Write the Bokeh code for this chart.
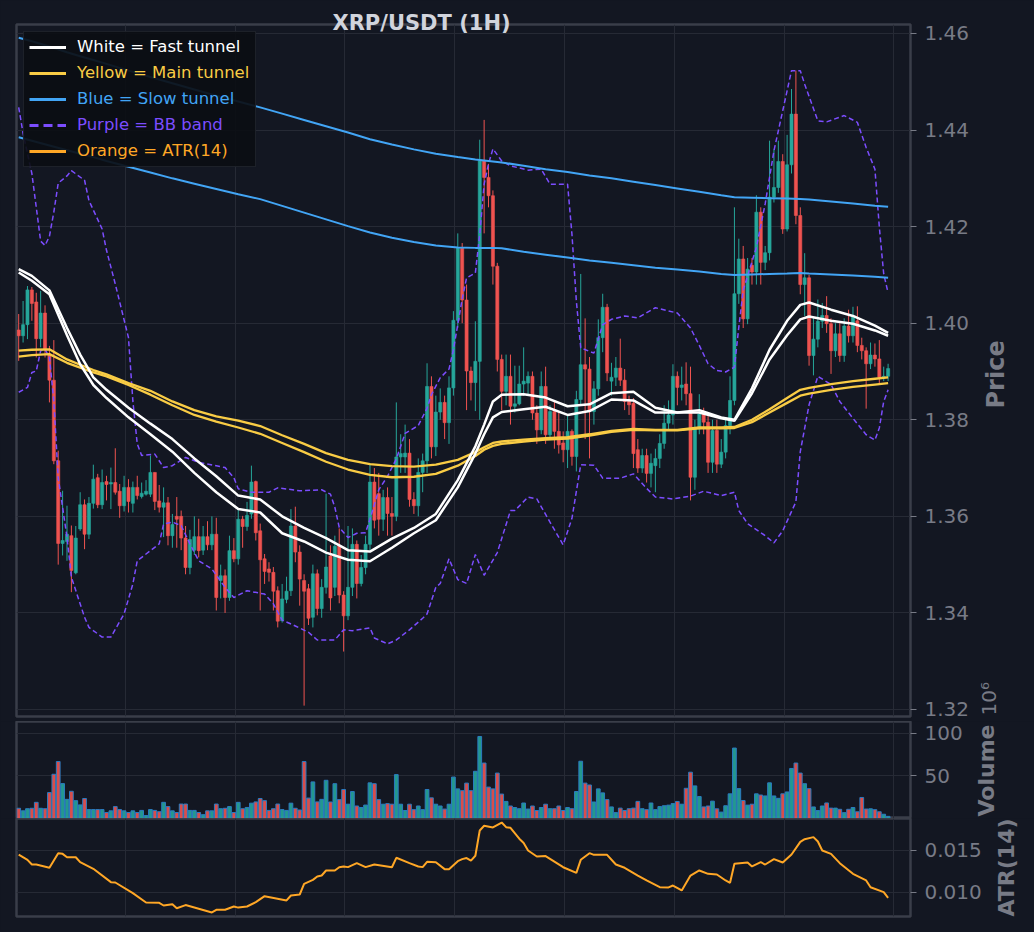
import math
from bokeh.plotting import figure
from bokeh.models import (Range1d, FixedTicker, Grid, Legend, LegendItem, LinearAxis,
                          ColumnDataSource, PrintfTickFormatter)
from bokeh.layouts import column
from bokeh.embed import file_html
from bokeh.resources import INLINE

# ---------------- data ----------------
opens = [1.3986, 1.3974, 1.3997, 1.4069, 1.4044, 1.3968, 1.4021, 1.3936, 1.3882, 1.3715,
         1.3544, 1.3548, 1.3560, 1.3483, 1.3574, 1.3624, 1.3563, 1.3627, 1.3680, 1.3624,
         1.3672, 1.3667, 1.3670, 1.3652, 1.3622, 1.3660, 1.3627, 1.3660, 1.3641, 1.3646,
         1.3646, 1.3691, 1.3632, 1.3619, 1.3628, 1.3560, 1.3600, 1.3600, 1.3555, 1.3494,
         1.3530, 1.3558, 1.3530, 1.3558, 1.3541, 1.3563, 1.3467, 1.3477, 1.3432, 1.3529,
         1.3512, 1.3594, 1.3579, 1.3605, 1.3672, 1.3570, 1.3512, 1.3491, 1.3484, 1.3446,
         1.3384, 1.3428, 1.3446, 1.3580, 1.3526, 1.3467, 1.3450, 1.3391, 1.3481, 1.3409,
         1.3453, 1.3518, 1.3453, 1.3540, 1.3437, 1.3394, 1.3453, 1.3542, 1.3461, 1.3494,
         1.3542, 1.3671, 1.3647, 1.3594, 1.3639, 1.3606, 1.3600, 1.3723, 1.3723, 1.3731,
         1.3635, 1.3622, 1.3691, 1.3715, 1.3869, 1.3744, 1.3816, 1.3836, 1.3794, 1.3866,
         1.4006, 1.4155, 1.4048, 1.3901, 1.3877, 1.3921, 1.4336, 1.4302, 1.4264, 1.4118,
         1.3925, 1.3859, 1.3890, 1.3828, 1.3833, 1.3874, 1.3876, 1.3890, 1.3814, 1.3779,
         1.3869, 1.3769, 1.3817, 1.3776, 1.3752, 1.3738, 1.3776, 1.3724, 1.3842, 1.3914,
         1.3905, 1.3817, 1.3864, 1.3970, 1.4033, 1.3880, 1.3888, 1.3907, 1.3882, 1.3838,
         1.3834, 1.3738, 1.3700, 1.3726, 1.3689, 1.3705, 1.3720, 1.3751, 1.3793, 1.3810,
         1.3890, 1.3867, 1.3874, 1.3854, 1.3681, 1.3781, 1.3812, 1.3795, 1.3712, 1.3778,
         1.3708, 1.3733, 1.3788, 1.3840, 1.4061, 1.4133, 1.4009, 1.4120, 1.4106, 1.4230,
         1.4126, 1.4146, 1.4261, 1.4281, 1.4335, 1.4195, 1.4328, 1.4433, 1.4223, 1.4080,
         1.4094, 1.3933, 1.3967, 1.4004, 1.4016, 1.3999, 1.3943, 1.3978, 1.3933, 1.3994,
         1.3974, 1.4005, 1.3954, 1.3943, 1.3916, 1.3934, 1.3926, 1.3888, 1.3890]

highs = [1.4019, 1.4046, 1.4077, 1.4075, 1.4063, 1.4067, 1.4037, 1.3953, 1.3965, 1.3736,
         1.3653, 1.3622, 1.3581, 1.3580, 1.3650, 1.3635, 1.3640, 1.3707, 1.3688, 1.3697,
         1.3684, 1.3701, 1.3741, 1.3667, 1.3684, 1.3677, 1.3672, 1.3684, 1.3670, 1.3675,
         1.3726, 1.3691, 1.3665, 1.3660, 1.3640, 1.3605, 1.3640, 1.3612, 1.3580, 1.3572,
         1.3600, 1.3595, 1.3580, 1.3590, 1.3600, 1.3597, 1.3500, 1.3490, 1.3560, 1.3555,
         1.3615, 1.3601, 1.3630, 1.3705, 1.3674, 1.3585, 1.3522, 1.3505, 1.3495, 1.3455,
         1.3460, 1.3475, 1.3615, 1.3620, 1.3540, 1.3480, 1.3460, 1.3500, 1.3490, 1.3470,
         1.3647, 1.3540, 1.3560, 1.3575, 1.3445, 1.3580, 1.3575, 1.3550, 1.3520, 1.3560,
         1.3710, 1.3700, 1.3690, 1.3655, 1.3660, 1.3640, 1.3836, 1.3770, 1.3790, 1.3760,
         1.3650, 1.3720, 1.3730, 1.3917, 1.3890, 1.3850, 1.3865, 1.3850, 1.3890, 1.4025,
         1.4186, 1.4166, 1.4080, 1.3910, 1.4004, 1.4380, 1.4421, 1.4330, 1.4275, 1.4125,
         1.3935, 1.3935, 1.3935, 1.3912, 1.3912, 1.3950, 1.3900, 1.3900, 1.3830, 1.3900,
         1.3910, 1.3830, 1.3840, 1.3817, 1.3776, 1.3810, 1.3780, 1.3860, 1.4102, 1.4010,
         1.3930, 1.3880, 1.4008, 1.4061, 1.4040, 1.3918, 1.3930, 1.3968, 1.3905, 1.3850,
         1.3845, 1.3760, 1.3740, 1.3740, 1.3730, 1.3740, 1.3770, 1.3830, 1.3840, 1.3915,
         1.3900, 1.3910, 1.3919, 1.3910, 1.3800, 1.3853, 1.3825, 1.3810, 1.3800, 1.3800,
         1.3760, 1.3800, 1.3890, 1.4240, 1.4175, 1.4160, 1.4135, 1.4135, 1.4265, 1.4240,
         1.4160, 1.4378, 1.4360, 1.4378, 1.4350, 1.4390, 1.4485, 1.4523, 1.4240, 1.4145,
         1.4100, 1.4012, 1.4049, 1.4042, 1.4056, 1.4010, 1.4000, 1.4000, 1.4010, 1.4028,
         1.4034, 1.4035, 1.3970, 1.3950, 1.3960, 1.3958, 1.3965, 1.3910, 1.3916]

lows = [1.3922, 1.3960, 1.3967, 1.4005, 1.3929, 1.3950, 1.3929, 1.3836, 1.3708, 1.3500,
        1.3519, 1.3508, 1.3443, 1.3480, 1.3570, 1.3532, 1.3553, 1.3616, 1.3617, 1.3615,
        1.3633, 1.3615, 1.3645, 1.3597, 1.3610, 1.3608, 1.3608, 1.3635, 1.3637, 1.3643,
        1.3640, 1.3613, 1.3608, 1.3557, 1.3540, 1.3535, 1.3535, 1.3530, 1.3480, 1.3480,
        1.3520, 1.3515, 1.3520, 1.3530, 1.3530, 1.3405, 1.3430, 1.3400, 1.3425, 1.3505,
        1.3500, 1.3535, 1.3570, 1.3595, 1.3550, 1.3405, 1.3460, 1.3465, 1.3405, 1.3370,
        1.3380, 1.3420, 1.3435, 1.3505, 1.3415, 1.3208, 1.3375, 1.3370, 1.3395, 1.3390,
        1.3440, 1.3405, 1.3435, 1.3420, 1.3320, 1.3385, 1.3435, 1.3430, 1.3455, 1.3480,
        1.3530, 1.3575, 1.3560, 1.3570, 1.3560, 1.3560, 1.3590, 1.3690, 1.3690, 1.3620,
        1.3605, 1.3600, 1.3650, 1.3690, 1.3720, 1.3725, 1.3800, 1.3760, 1.3750, 1.3850,
        1.3990, 1.4000, 1.3820, 1.3840, 1.3818, 1.3800, 1.4186, 1.4240, 1.4080, 1.3900,
        1.3820, 1.3830, 1.3790, 1.3815, 1.3830, 1.3850, 1.3850, 1.3800, 1.3750, 1.3770,
        1.3750, 1.3760, 1.3740, 1.3730, 1.3712, 1.3700, 1.3705, 1.3693, 1.3830, 1.3760,
        1.3720, 1.3790, 1.3850, 1.3940, 1.3880, 1.3850, 1.3870, 1.3870, 1.3820, 1.3810,
        1.3700, 1.3690, 1.3690, 1.3670, 1.3660, 1.3650, 1.3700, 1.3740, 1.3780, 1.3790,
        1.3830, 1.3840, 1.3830, 1.3633, 1.3655, 1.3770, 1.3770, 1.3690, 1.3690, 1.3690,
        1.3700, 1.3720, 1.3770, 1.3830, 1.4040, 1.3990, 1.3998, 1.4080, 1.4080, 1.4080,
        1.4110, 1.4130, 1.4250, 1.4270, 1.4185, 1.4190, 1.4310, 1.4205, 1.4060, 1.4015,
        1.3912, 1.3892, 1.3950, 1.3990, 1.3980, 1.3895, 1.3930, 1.3920, 1.3920, 1.3960,
        1.3960, 1.3940, 1.3925, 1.3823, 1.3905, 1.3910, 1.3872, 1.3880, 1.3880]

closes = [1.3974, 1.3997, 1.4069, 1.4041, 1.3968, 1.4021, 1.3946, 1.3882, 1.3715, 1.3544,
          1.3550, 1.3563, 1.3488, 1.3555, 1.3624, 1.3563, 1.3627, 1.3677, 1.3624, 1.3670,
          1.3666, 1.3670, 1.3650, 1.3622, 1.3660, 1.3631, 1.3660, 1.3643, 1.3648, 1.3652,
          1.3691, 1.3631, 1.3619, 1.3628, 1.3560, 1.3583, 1.3594, 1.3555, 1.3494, 1.3552,
          1.3558, 1.3529, 1.3558, 1.3541, 1.3563, 1.3432, 1.3477, 1.3432, 1.3529, 1.3512,
          1.3594, 1.3579, 1.3602, 1.3671, 1.3566, 1.3510, 1.3486, 1.3484, 1.3445, 1.3383,
          1.3429, 1.3445, 1.3580, 1.3526, 1.3470, 1.3445, 1.3389, 1.3481, 1.3409, 1.3453,
          1.3495, 1.3431, 1.3538, 1.3437, 1.3394, 1.3453, 1.3542, 1.3461, 1.3494, 1.3542,
          1.3671, 1.3592, 1.3594, 1.3639, 1.3606, 1.3600, 1.3723, 1.3730, 1.3731, 1.3635,
          1.3622, 1.3691, 1.3715, 1.3869, 1.3744, 1.3816, 1.3836, 1.3794, 1.3866, 1.4006,
          1.4155, 1.4048, 1.3901, 1.3877, 1.3921, 1.4336, 1.4302, 1.4264, 1.4118, 1.3925,
          1.3859, 1.3890, 1.3828, 1.3833, 1.3874, 1.3880, 1.3890, 1.3814, 1.3779, 1.3869,
          1.3769, 1.3817, 1.3776, 1.3748, 1.3738, 1.3776, 1.3724, 1.3842, 1.3914, 1.3905,
          1.3817, 1.3864, 1.3970, 1.4033, 1.3897, 1.3888, 1.3907, 1.3882, 1.3838, 1.3831,
          1.3730, 1.3700, 1.3726, 1.3689, 1.3710, 1.3720, 1.3751, 1.3793, 1.3810, 1.3890,
          1.3867, 1.3872, 1.3854, 1.3681, 1.3781, 1.3812, 1.3795, 1.3712, 1.3778, 1.3708,
          1.3733, 1.3788, 1.3840, 1.4061, 1.4133, 1.4009, 1.4112, 1.4106, 1.4230, 1.4126,
          1.4146, 1.4261, 1.4281, 1.4335, 1.4195, 1.4328, 1.4433, 1.4223, 1.4080, 1.4094,
          1.3933, 1.3967, 1.4004, 1.4016, 1.3999, 1.3943, 1.3978, 1.3933, 1.3994, 1.3974,
          1.4014, 1.3954, 1.3943, 1.3916, 1.3934, 1.3926, 1.3888, 1.3890, 1.3906]

volume_m = [12, 9, 11.5, 12, 19, 12, 11.5, 30.5, 52, 67,
            41, 22.5, 32, 21, 16, 23.5, 10.5, 10.5, 10.5, 10.5,
            7, 9, 14, 10.5, 9, 7, 9, 7, 9.5, 3.5,
            10.5, 9.5, 8, 19, 14, 9, 7, 17, 17, 9.5,
            9.5, 7, 4.5, 9, 9, 17, 11.5, 12, 14, 7,
            19, 11.5, 13, 18, 19.5, 23.5, 21, 9.5, 11.5, 17,
            10.5, 9.5, 18, 12, 10, 67, 24, 43, 19.5, 22.5,
            44.9, 19.4, 40.9, 22.2, 34.1, 16.8, 31.7, 14.7, 12.9, 15.8,
            41.9, 40.9, 22.2, 16.8, 17.5, 16.8, 51.6, 16.8, 9.4, 16.8,
            10.4, 14.7, 10.4, 34.1, 24.3, 16.8, 14.7, 11.1, 16.8, 48.7,
            34.8, 32.7, 41.6, 32.7, 55.5, 96.4, 65.2, 36.9, 34.8, 53.4,
            28.7, 20.1, 14.7, 12.9, 11.5, 18.2, 11.1, 14.7, 9.4, 12.9,
            16.8, 11.5, 11.5, 14.7, 9.4, 12.9, 11.5, 31.7, 67.3, 41.6,
            39.4, 19.4, 34.8, 30.1, 22.2, 13.6, 6.9, 12.2, 9.4, 11.5,
            12.2, 20.1, 11.5, 10.4, 18.2, 10.4, 14.0, 15.0, 15.7, 17.5,
            20.0, 16.8, 35.5, 54.4, 38.3, 25.8, 13.6, 14.7, 20.4, 11.4,
            7.5, 15.0, 29.0, 82.8, 35.1, 21.1, 15.7, 16.8, 29.0, 27.6,
            26.5, 41.9, 26.5, 23.7, 29.0, 31.2, 58.8, 65.2, 53.4, 40.9,
            35.1, 13.6, 9.3, 14.7, 18.3, 12.2, 12.2, 10.8, 6.9, 10.8,
            12.9, 7.9, 24.7, 11.1, 11.4, 10.4, 7.9, 5.0, 2.5]

atr_idx = [0, 2, 3, 4, 7, 9, 10, 11, 13, 14, 17, 21, 22, 26, 29, 32, 33, 35, 36, 38,
           41, 44, 45, 47, 49, 50, 52, 54, 56, 61, 62, 64, 65, 67, 68, 69, 70, 72, 73, 74,
           75, 77, 79, 81, 85, 86, 89, 91, 92, 93, 95, 97, 98, 100, 101, 102, 103, 104, 105, 106,
           108, 110, 111, 112, 114, 115, 116, 118, 120, 124, 127, 128, 130, 131, 134, 136, 138, 141, 143, 146,
           148, 149, 151, 153, 155, 157, 159, 161, 162, 163, 166, 167, 169, 170, 172, 174, 176, 178, 179, 181,
           182, 183, 185, 187, 190, 193, 194, 197, 198]
atr_vals = [0.01452, 0.01389, 0.01333, 0.01333, 0.01294, 0.01468, 0.01460, 0.01420, 0.01420, 0.01361,
            0.01282, 0.01123, 0.01119, 0.00992, 0.00881, 0.00877, 0.00845, 0.00861, 0.00813, 0.00850,
            0.00806, 0.00762, 0.00794, 0.00794, 0.00833, 0.00820, 0.00833, 0.00885, 0.00956, 0.00905,
            0.00964, 0.00976, 0.01103, 0.01150, 0.01190, 0.01202, 0.01262, 0.01262, 0.01301, 0.01310,
            0.01302, 0.01349, 0.01302, 0.01333, 0.01301, 0.01413, 0.01350, 0.01310, 0.01302, 0.01365,
            0.01360, 0.01278, 0.01278, 0.01373, 0.01397, 0.01410, 0.01380, 0.01437, 0.01738, 0.01794,
            0.01774, 0.01833, 0.01778, 0.01770, 0.01640, 0.01590, 0.01500, 0.01429, 0.01433, 0.01301,
            0.01234, 0.01389, 0.01468, 0.01448, 0.01448, 0.01333, 0.01294, 0.01202, 0.01143, 0.01063,
            0.01060, 0.01083, 0.01024, 0.01202, 0.01262, 0.01222, 0.01214, 0.01143, 0.01115, 0.01341,
            0.01357, 0.01310, 0.01361, 0.01333, 0.01397, 0.01357, 0.01452, 0.01603, 0.01635, 0.01659,
            0.01607, 0.01500, 0.01460, 0.01349, 0.01222, 0.01143, 0.01063, 0.01004, 0.00937]

tunnel_idx = [0, 3, 7, 11, 14, 17, 20, 25, 30, 35, 40, 45, 50, 55, 60, 65, 70, 75, 80, 85,
              90, 95, 100, 104, 106, 108, 110, 115, 120, 125, 130, 135, 140, 145, 150, 155, 160, 163, 167, 171,
              175, 178, 180, 185, 190, 195, 198]
white_upper = [1.4112, 1.4098, 1.4068, 1.3990, 1.3935, 1.3888, 1.3862, 1.3825, 1.3792, 1.3760,
               1.3720, 1.3683, 1.3643, 1.3635, 1.3600, 1.3576, 1.3555, 1.3530, 1.3527, 1.3554,
               1.3576, 1.3605, 1.3675, 1.3745, 1.3790, 1.3838, 1.3852, 1.3853, 1.3846, 1.3828,
               1.3832, 1.3855, 1.3858, 1.3825, 1.3815, 1.3820, 1.3805, 1.3800, 1.3865, 1.3945,
               1.4005, 1.4038, 1.4043, 1.4028, 1.4015, 1.3995, 1.3980]
white_lower = [1.4105, 1.4088, 1.4060, 1.3975, 1.3915, 1.3872, 1.3845, 1.3805, 1.3770, 1.3734,
               1.3690, 1.3650, 1.3615, 1.3608, 1.3565, 1.3548, 1.3525, 1.3510, 1.3507, 1.3535,
               1.3565, 1.3592, 1.3660, 1.3730, 1.3770, 1.3805, 1.3816, 1.3822, 1.3827, 1.3810,
               1.3818, 1.3842, 1.3840, 1.3815, 1.3815, 1.3815, 1.3803, 1.3798, 1.3855, 1.3925,
               1.3975, 1.4008, 1.4014, 1.4005, 1.3999, 1.3985, 1.3974]
yellow_upper = [1.3943, 1.3945, 1.3946, 1.3925, 1.3914, 1.3903, 1.3894, 1.3876, 1.3860, 1.3838,
                1.3820, 1.3807, 1.3798, 1.3787, 1.3768, 1.3750, 1.3731, 1.3717, 1.3708, 1.3704,
                1.3703, 1.3707, 1.3717, 1.3733, 1.3743, 1.3752, 1.3755, 1.3759, 1.3762, 1.3764,
                1.3770, 1.3777, 1.3781, 1.3779, 1.3779, 1.3784, 1.3784, 1.3785, 1.3800, 1.3822,
                1.3845, 1.3862, 1.3866, 1.3874, 1.3880, 1.3885, 1.3888]
yellow_lower = [1.3931, 1.3934, 1.3936, 1.3918, 1.3908, 1.3898, 1.3890, 1.3872, 1.3852, 1.3830,
                1.3810, 1.3796, 1.3784, 1.3771, 1.3752, 1.3733, 1.3713, 1.3697, 1.3686, 1.3681,
                1.3682, 1.3688, 1.3705, 1.3725, 1.3738, 1.3746, 1.3750, 1.3755, 1.3759, 1.3761,
                1.3767, 1.3775, 1.3779, 1.3778, 1.3778, 1.3782, 1.3782, 1.3783, 1.3795, 1.3815,
                1.3835, 1.3850, 1.3854, 1.3862, 1.3868, 1.3873, 1.3876]
blue_upper = [1.4591, 1.4584, 1.4573, 1.4561, 1.4553, 1.4545, 1.4537, 1.4523, 1.4510, 1.4497,
              1.4484, 1.4471, 1.4459, 1.4447, 1.4434, 1.4421, 1.4408, 1.4395, 1.4381, 1.4370,
              1.4360, 1.4351, 1.4344, 1.4339, 1.4337, 1.4335, 1.4333, 1.4326, 1.4319, 1.4313,
              1.4306, 1.4300, 1.4293, 1.4286, 1.4279, 1.4272, 1.4265, 1.4261, 1.4260, 1.4259,
              1.4258, 1.4257, 1.4256, 1.4252, 1.4248, 1.4243, 1.4241]
blue_lower = [1.4385, 1.4378, 1.4368, 1.4358, 1.4351, 1.4344, 1.4336, 1.4324, 1.4312, 1.4300,
              1.4289, 1.4278, 1.4267, 1.4257, 1.4243, 1.4229, 1.4215, 1.4201, 1.4188, 1.4177,
              1.4168, 1.4161, 1.4157, 1.4156, 1.4156, 1.4156, 1.4155, 1.4148, 1.4142, 1.4136,
              1.4130, 1.4125, 1.4120, 1.4115, 1.4111, 1.4107, 1.4102, 1.4100, 1.4101, 1.4102,
              1.4103, 1.4104, 1.4103, 1.4101, 1.4099, 1.4096, 1.4094]

bb_upper_idx = [0, 1, 3, 4, 5, 6, 7, 8, 9, 11, 12, 15, 16, 19, 20, 22, 25, 26, 27, 28,
                31, 33, 35, 38, 41, 47, 49, 50, 53, 57, 59, 64, 69, 71, 72, 73, 75, 77, 79, 80,
                82, 84, 86, 88, 91, 93, 94, 96, 98, 99, 101, 102, 104, 105, 106, 107, 108, 110, 112, 116,
                119, 121, 125, 126, 127, 128, 131, 133, 135, 138, 141, 145, 150, 153, 155, 157, 159, 161, 163, 164,
                165, 168, 170, 172, 174, 176, 178, 179, 182, 184, 188, 191, 193, 195, 196, 197, 198]
bb_upper = [1.4447, 1.4393, 1.4310, 1.4240, 1.4170, 1.4161, 1.4180, 1.4230, 1.4290, 1.4305,
            1.4316, 1.4296, 1.4254, 1.4195, 1.4151, 1.4081, 1.3970, 1.3839, 1.3750, 1.3726,
            1.3729, 1.3701, 1.3705, 1.3722, 1.3712, 1.3701, 1.3680, 1.3657, 1.3650, 1.3650,
            1.3659, 1.3653, 1.3655, 1.3646, 1.3619, 1.3577, 1.3556, 1.3565, 1.3566, 1.3594,
            1.3655, 1.3683, 1.3719, 1.3772, 1.3788, 1.3824, 1.3852, 1.3887, 1.3905, 1.3945,
            1.4050, 1.4094, 1.4104, 1.4184, 1.4288, 1.4330, 1.4361, 1.4336, 1.4326, 1.4317,
            1.4319, 1.4288, 1.4288, 1.4184, 1.4046, 1.3949, 1.3938, 1.3997, 1.4008, 1.4015,
            1.4011, 1.4032, 1.4021, 1.3990, 1.3954, 1.3916, 1.3902, 1.3899, 1.3909, 1.3992,
            1.4068, 1.4157, 1.4247, 1.4357, 1.4440, 1.4523, 1.4523, 1.4495, 1.4419, 1.4417,
            1.4430, 1.4416, 1.4364, 1.4319, 1.4199, 1.4102, 1.4063]
bb_lower_idx = [0, 2, 3, 4, 5, 6, 7, 8, 9, 11, 12, 15, 16, 19, 21, 24, 26, 27, 29, 32,
                33, 35, 37, 39, 41, 44, 47, 49, 52, 56, 58, 60, 63, 66, 68, 72, 74, 76, 80, 81,
                84, 86, 89, 92, 93, 95, 96, 98, 100, 102, 104, 106, 109, 112, 113, 116, 118, 121, 124, 126,
                128, 131, 133, 137, 140, 143, 145, 149, 153, 156, 160, 163, 164, 166, 170, 172, 174, 177, 178, 180,
                182, 185, 187, 190, 193, 195, 196, 197, 198]
bb_lower = [1.3857, 1.3867, 1.3898, 1.3901, 1.3943, 1.3946, 1.3929, 1.3839, 1.3680, 1.3557,
            1.3474, 1.3391, 1.3370, 1.3350, 1.3350, 1.3398, 1.3460, 1.3508, 1.3522, 1.3543,
            1.3584, 1.3588, 1.3581, 1.3543, 1.3508, 1.3491, 1.3453, 1.3432, 1.3446, 1.3439,
            1.3419, 1.3385, 1.3373, 1.3360, 1.3344, 1.3344, 1.3365, 1.3363, 1.3369, 1.3348,
            1.3336, 1.3344, 1.3365, 1.3389, 1.3398, 1.3453, 1.3461, 1.3512, 1.3469, 1.3461,
            1.3521, 1.3478, 1.3525, 1.3612, 1.3612, 1.3640, 1.3636, 1.3588, 1.3541, 1.3596,
            1.3707, 1.3706, 1.3679, 1.3679, 1.3688, 1.3658, 1.3640, 1.3636, 1.3642, 1.3652,
            1.3643, 1.3650, 1.3612, 1.3585, 1.3560, 1.3545, 1.3570, 1.3630, 1.3734, 1.3831,
            1.3890, 1.3873, 1.3838, 1.3803, 1.3769, 1.3758, 1.3783, 1.3838, 1.3862]

price_ticks = [1.32, 1.34, 1.36, 1.38, 1.40, 1.42, 1.44, 1.46]
volume_ticks = [50, 100]
atr_ticks = [0.010, 0.015]
x_grid_ticks = [24.3, 49.3, 74.3, 99.3, 124.3, 149.3, 174.3, 199.3]

# ---------------- styling ----------------
BG = "#131722"
GRID = "#262a35"
FRAME = "#3a3e49"
TXT = "#787b86"
FONT = "DejaVu Sans"
UP, DOWN = "#26a69a", "#ef5350"
WHITE, YELLOW, BLUE, PURPLE, ORANGE = "#ffffff", "#f9cc45", "#42a5f5", "#7c4dff", "#ffa726"
W = 1034          # page drawn with zero body margin; frame starts 16px from the left

n = min(len(opens), len(highs), len(lows), len(closes), len(volume_m))
idx = list(range(n))
cols = [UP if closes[i] >= opens[i] else DOWN for i in idx]
x_range = Range1d(-0.5, 203.1)


def make_fig(height, frame_h, y_range, ticks, fmt, top, bottom, **kw):
    p = figure(width=W, height=height, x_range=x_range, y_range=y_range,
               output_backend="svg", toolbar_location=None,
               x_axis_location=None, y_axis_location="right",
               min_border_left=16, min_border_right=122,
               min_border_top=top, min_border_bottom=bottom, **kw)
    p.background_fill_color = BG
    p.border_fill_color = BG
    p.outline_line_color = FRAME
    p.outline_line_width = 2.5
    p.extra_y_ranges = {"px": Range1d(0, frame_h)}
    ax = p.yaxis[0]
    ax.ticker = FixedTicker(ticks=ticks)
    ax.formatter = PrintfTickFormatter(format=fmt)
    ax.axis_line_color = None
    ax.major_tick_line_color = TXT
    ax.major_tick_out = 6
    ax.major_tick_in = 0
    ax.minor_tick_line_color = None
    ax.major_label_standoff = 8
    ax.major_label_text_color = TXT
    ax.major_label_text_font = FONT
    ax.major_label_text_font_size = "20px"
    for g in p.ygrid:
        g.ticker = FixedTicker(ticks=ticks)
        g.grid_line_color = GRID
        g.grid_line_width = 1
    for g in p.xgrid:
        g.grid_line_color = None
    p.add_layout(Grid(dimension=0, ticker=FixedTicker(ticks=x_grid_ticks),
                      grid_line_color=GRID, grid_line_width=1))
    return p


def side_text(p, pos, text, size, style, standoff):
    """Vertical (bottom-to-top) side text: a bare extra axis with one relabelled tick."""
    p.add_layout(LinearAxis(y_range_name="px", ticker=FixedTicker(ticks=[pos]),
                            major_label_overrides={pos: text},
                            major_label_orientation=math.pi / 2,
                            major_tick_line_color=None, major_tick_out=0, major_tick_in=0,
                            minor_tick_line_color=None, axis_line_color=None,
                            major_label_standoff=standoff, major_label_text_color=TXT,
                            major_label_text_font=FONT, major_label_text_font_size=size,
                            major_label_text_font_style=style), "right")


# ---------------- price panel ----------------
p1 = make_fig(721, 692, Range1d(1.31855, 1.46186), price_ticks, "%.2f", 24, 5,
              title="XRP/USDT (1H)")
p1.title.align = "left"
p1.title.offset = 316
p1.title.standoff = -21
p1.title.text_font = FONT
p1.title.text_font_size = "21px"
p1.title.text_font_style = "bold"
p1.title.text_color = "#d1d4dc"

csrc = ColumnDataSource(dict(
    x=idx, o=opens[:n], h=highs[:n], l=lows[:n], c=closes[:n],
    top=[max(opens[i], closes[i]) for i in idx],
    bot=[min(opens[i], closes[i]) for i in idx],
    col=cols))
p1.segment(x0="x", y0="l", x1="x", y1="h", source=csrc, line_color="col", line_width=1)
p1.vbar(x="x", width=0.7, top="top", bottom="bot", source=csrc,
        fill_color="col", line_color="col", line_width=0.6)

p1.line(bb_upper_idx, bb_upper, line_color=PURPLE, line_width=1.5, line_dash="5 3")
p1.line(bb_lower_idx, bb_lower, line_color=PURPLE, line_width=1.5, line_dash="5 3")
p1.line(tunnel_idx, blue_upper, line_color=BLUE, line_width=2)
p1.line(tunnel_idx, blue_lower, line_color=BLUE, line_width=2)
p1.line(tunnel_idx, yellow_upper, line_color=YELLOW, line_width=2.3)
p1.line(tunnel_idx, yellow_lower, line_color=YELLOW, line_width=2.3)
p1.line(tunnel_idx, white_upper, line_color=WHITE, line_width=2.5)
p1.line(tunnel_idx, white_lower, line_color=WHITE, line_width=2.5)

side_text(p1, 1, "10\u2076", "20px", "normal", 16)      # offset text of the volume axis
side_text(p1, 308, "Price", "24px", "bold", -20)

# legend: one box with glyphs, then one transparent legend per coloured label
nan = float("nan")
legend_src = ColumnDataSource(dict(x=[nan], y=[nan]))   # legend-only renderers, nothing drawn
leg_specs = [("White = Fast tunnel", WHITE, None),
             ("Yellow = Main tunnel", YELLOW, None),
             ("Blue = Slow tunnel", BLUE, None),
             ("Purple = BB band", PURPLE, "9 5"),
             ("Orange = ATR(14)", ORANGE, None)]
geom = dict(location="top_left", margin=7, padding=5, spacing=6, glyph_width=37,
            glyph_height=20, label_height=20, label_standoff=12,
            label_text_font=FONT, label_text_font_size="16.5px")
vis_r, hid_r = [], []
for text, colr, dash in leg_specs:
    kw = dict(line_color=colr, line_width=3.2)
    if dash:
        kw["line_dash"] = dash
    vis_r.append(p1.line("x", "y", source=legend_src, **kw))
    hid_r.append(p1.line("x", "y", source=legend_src, line_color=colr, line_alpha=0))
box = Legend(items=[LegendItem(label=t, renderers=[vis_r[j]]) for j, (t, c, d) in enumerate(leg_specs)],
             label_text_alpha=0, background_fill_color="#0b0e14", background_fill_alpha=0.92,
             border_line_color="#2f333d", border_line_width=1.5, **geom)
p1.add_layout(box)
for k, (text, colr, dash) in enumerate(leg_specs):
    its = [LegendItem(label=(t if j == k else " "), renderers=[hid_r[j]])
           for j, (t, c, d) in enumerate(leg_specs)]
    p1.add_layout(Legend(items=its, label_text_color=colr, background_fill_alpha=0,
                         border_line_alpha=0, **geom))

# ---------------- volume panel ----------------
p2 = make_fig(97, 97, Range1d(0, 114), volume_ticks, "%d", 0, 0)
vsrc = ColumnDataSource(dict(x=idx, v=volume_m[:n], col=cols))
p2.vbar(x="x", width=0.85, top="v", bottom=0, source=vsrc,
        fill_color="col", fill_alpha=0.9, line_color="#2b7bc0", line_width=1)
side_text(p2, 2, "Volume", "22px", "bold", 21)

# ---------------- ATR panel ----------------
p3 = make_fig(112, 98, Range1d(0.00714, 0.01881), atr_ticks, "%.3f", 0, 14)
p3.line(atr_idx, atr_vals, line_color=ORANGE, line_width=2)
side_text(p3, 0, "ATR(14)", "22px", "bold", 22)

layout = column(p1, p2, p3, spacing=0)

html = file_html(layout, INLINE, title="XRP/USDT (1H)")
html = html.replace("<body>", '<body style="background-color:%s;margin:0;overflow:hidden;">' % BG)
open("out.html", "w").write(html)
